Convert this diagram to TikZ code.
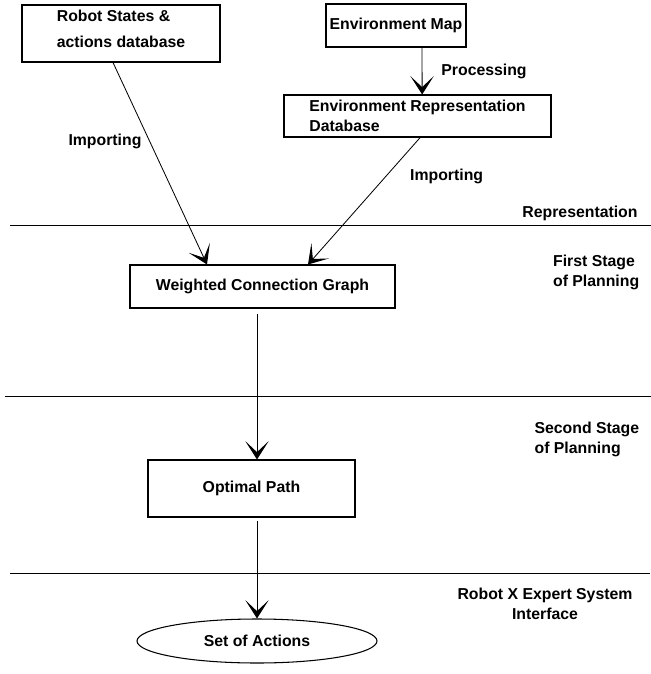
\documentclass[tikz,border=0pt]{standalone}
\usepackage{fontspec}
\setmainfont{Liberation Sans}
\usepackage{tikz}
\usetikzlibrary{arrows.meta}
\usetikzlibrary{positioning,shapes}
\tikzset{
    block/.style={
        draw,
        rectangle,
        line width=0.9pt,
        inner sep=2pt,
        font=\bfseries\fontsize{13.5}{17}\selectfont
    },
    flow/.style={
        -{Stealth[length=5.5mm, width=7mm, inset=3.3mm, line width=0.9pt]},
        line width=0.7pt
    },
    stagelabel/.style={
        font=\bfseries\fontsize{13.5}{17}\selectfont
    },
    divider/.style={line width=0.8pt}
}

\begin{document}
\begin{tikzpicture}
    \useasboundingbox (0,0) rectangle (19.53,-20.22);

    % Representation
    \node[block, align=left, minimum width=5.94cm, minimum height=1.71cm, text depth=0.3cm] (robotdb) at (3.63,-1.005) {Robot States \&\\[5pt]actions database};
    \node[block, minimum width=4.2cm, minimum height=1.29cm] (envmap) at (11.88,-0.765) {Environment Map};
    \node[block, align=left, minimum width=8.01cm, minimum height=1.26cm] (envrep) at (12.525,-3.48) {Environment Representation\\Database};

    % Planning
    \node[block, minimum width=7.95cm, minimum height=1.29cm] (graph) at (7.875,-8.595) {Weighted Connection Graph};
    \node[block, minimum width=6.21cm, minimum height=1.71cm] (optpath) at (7.545,-14.655) {Optimal Path};
    \node[block, ellipse, minimum width=7.2cm, minimum height=1.32cm] (actions) at (7.71,-19.23) {Set of Actions};

    % Stage dividers
    \coordinate (d1a) at (0.3,-6.75);   \coordinate (d1b) at (19.53,-6.75);
    \coordinate (d2a) at (0.15,-11.88); \coordinate (d2b) at (19.53,-11.88);
    \coordinate (d3a) at (0.3,-17.19);  \coordinate (d3b) at (19.5,-17.19);
    \draw[divider] (d1a) -- (d1b);
    \draw[divider] (d2a) -- (d2b);
    \draw[divider] (d3a) -- (d3b);

    % Stage names
    \node[stagelabel] (rep) at (17.4,-6.39) {Representation};
    \node[stagelabel, align=left, anchor=east] (first) at (19.3,-8.16) {First Stage\\of Planning};
    \node[stagelabel, align=left, anchor=east] (second) at (19.3,-13.17) {Second Stage\\of Planning};
    \node[stagelabel, align=center] (iface) at (16.35,-18.12) {Robot X Expert System\\Interface};

    % Connections
    \draw[flow] ([xshift=0.78cm]envmap.south) -- node[stagelabel, right=0.45cm] {Processing} ([xshift=0.14cm]envrep.north);
    \draw[flow] ([xshift=-0.24cm]robotdb.south) -- ([xshift=-1.665cm]graph.north);
    \draw[flow] ([xshift=0.08cm]envrep.south) -- ([xshift=1.365cm]graph.north);
    \node[stagelabel] (imp1) at (3.15,-4.23) {Importing};
    \node[stagelabel] (imp2) at (13.4,-5.28) {Importing};
    \draw[flow, shorten <=0.15cm] (graph.south -| actions.north) -- (optpath.north -| actions.north);
    \draw[flow, shorten <=0.1cm] (optpath.south -| actions.north) -- (actions.north);
\end{tikzpicture}
\end{document}
